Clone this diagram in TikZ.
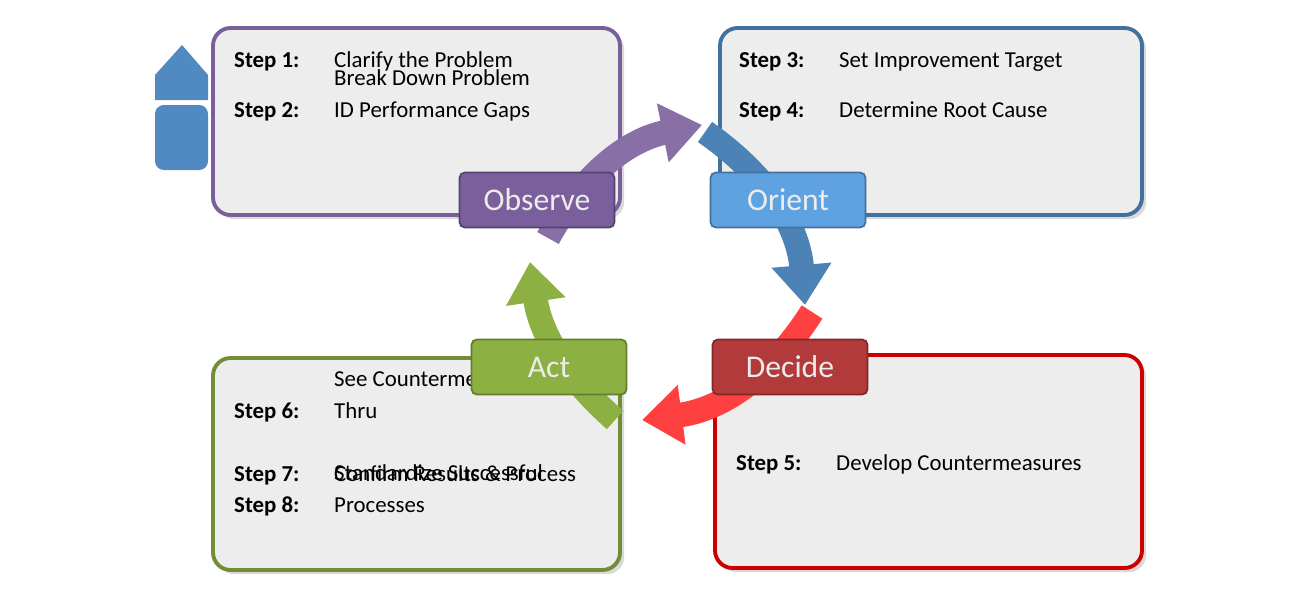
\documentclass[tikz,border=0pt]{standalone}
\usepackage{fontspec}
\setmainfont{Carlito}
\usetikzlibrary{arrows.meta, shadows}

\definecolor{obscol}{HTML}{7B5F9C}
\definecolor{oricol}{HTML}{5FA2E2}
\definecolor{deccol}{HTML}{B23A3A}
\definecolor{actcol}{HTML}{8DB043}
\definecolor{boxfill}{HTML}{EDEDED}

\tikzset{
    panel/.style = {draw = #1, line width = 2.2pt, fill = boxfill, rounded corners = 10pt, drop shadow = {opacity = 0.3}},
    phase/.style = {draw = #1!70!black, line width = 1pt, fill = #1, rounded corners = 3pt, minimum width = 3.1cm, minimum height = 1.1cm,
                    text = gray!15, font = \fontsize{18}{18}\selectfont},
    steptag/.style = {anchor = base west, font = \fontsize{13}{18}\selectfont\bfseries},
    steptext/.style = {anchor = base west, font = \fontsize{13}{18}\selectfont, align = left},
    cycle/.style = {line width = 14pt, draw = #1, -{Triangle[length = 0.8cm, width = 1.15cm]}}
}

\begin{document}
\begin{tikzpicture}[x = 0.02cm, y = -0.02cm]
    \useasboundingbox (0, 0) rectangle (1290, 589);

    % stray shape at the left edge
    \fill[oricol!85!black] (155, 75) -- (182, 45) -- (208, 75) -- (208, 100) -- (155, 100) -- cycle;
    \fill[oricol!85!black, rounded corners = 5pt] (155, 105) rectangle (208, 170);

    % panels
    \draw[panel = obscol] (213, 28) rectangle (620, 215);
    \draw[panel = oricol!70!black] (720, 28) rectangle (1142, 215);
    \draw[panel = actcol!80!black] (213, 358) rectangle (620, 570);
    \draw[panel = red!80!black] (715, 355) rectangle (1142, 568);

    % step texts
    \node[steptag] (s1) at (228, 67) {Step 1:};
    \node[steptext] (t1) at (328, 67) {Clarify the Problem};
    \node[steptag] (s2) at (228, 117) {Step 2:};
    \node[steptext] (t2) at (328, 117) {Break Down Problem\\ID Performance Gaps};

    \node[steptag] (s3) at (733, 67) {Step 3:};
    \node[steptext] (t3) at (833, 67) {Set Improvement Target};
    \node[steptag] (s4) at (733, 117) {Step 4:};
    \node[steptext] (t4) at (833, 117) {Determine Root Cause};

    \node[steptag] (s6) at (228, 418) {Step 6:};
    \node[steptext] (t6) at (328, 418) {See Countermeasures\\Thru};
    \node[steptag] (s7) at (228, 481) {Step 7:};
    \node[steptext] (t7) at (328, 481) {Confirm Results \& Process};
    \node[steptag] (s8) at (228, 512) {Step 8:};
    \node[steptext] (t8) at (328, 512) {Standardize Successful\\Processes};

    \node[steptag] (s5) at (730, 470) {Step 5:};
    \node[steptext] (t5) at (830, 470) {Develop Countermeasures};

    % cycle arrows
    \coordinate (pa) at (548, 238);
    \coordinate (pb) at (702, 125);
    \coordinate (ba) at (705, 132);
    \coordinate (bb) at (805, 305);
    \coordinate (ra) at (812, 312);
    \coordinate (rb) at (642, 420);
    \coordinate (ga) at (615, 420);
    \coordinate (gb) at (530, 262);
    \draw[cycle = obscol!90!white] (pa) to[bend left = 25] (pb);
    \draw[cycle = oricol!80!black] (ba) to[bend left = 25] (bb);
    \draw[cycle = red!75!white] (ra) to[bend left = 25] (rb);
    \draw[cycle = actcol] (ga) to[bend left = 20] (gb);

    % phase labels
    \node[phase = obscol] (observe) at (537, 200) {Observe};
    \node[phase = oricol] (orient) at (788, 200) {Orient};
    \node[phase = deccol] (decide) at (790, 367) {Decide};
    \node[phase = actcol] (act) at (549, 367) {Act};
\end{tikzpicture}
\end{document}
